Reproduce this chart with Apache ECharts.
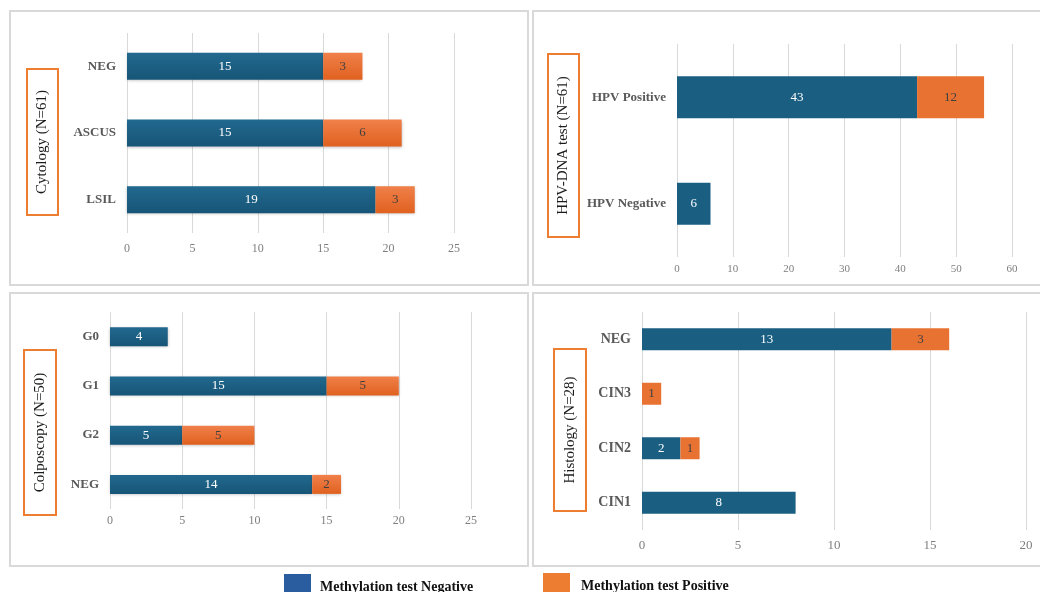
<!DOCTYPE html>
<html>
<head>
<meta charset="utf-8">
<script src="https://cdn.jsdelivr.net/npm/echarts@6/dist/echarts.min.js"></script>
<style>
html,body{margin:0;padding:0;background:#fff;}
#chart{width:1040px;height:592px;}
</style>
</head>
<body>
<div id="chart"></div>
<script>
// ---- data ----
const cytoCats = ['NEG', 'ASCUS', 'LSIL'];
const cytoNeg = [15, 15, 19];
const cytoPos = [3, 6, 3];

const hpvCats = ['HPV Positive', 'HPV Negative'];
const hpvNeg = [43, 6];
const hpvPos = [12, 0];

const colpoCats = ['G0', 'G1', 'G2', 'NEG'];
const colpoNeg = [4, 15, 5, 14];
const colpoPos = [0, 5, 5, 2];

const histoCats = ['NEG', 'CIN3', 'CIN2', 'CIN1'];
const histoNeg = [13, 0, 2, 8];
const histoPos = [3, 1, 1, 0];

const panelTitles = ['Cytology (N=61)', 'HPV-DNA test (N=61)', 'Colposcopy (N=50)', 'Histology (N=28)'];
const axisMax = [25, 60, 25, 20];
const axisStep = [5, 10, 5, 5];
const seriesNames = ['Methylation test Negative', 'Methylation test Positive'];

// ---- layout / style ----
const SERIF = "'Liberation Serif', 'DejaVu Serif', serif";
const grids = [
  {left: 127, top: 33, width: 327, height: 200},
  {left: 677, top: 44, width: 335, height: 213},
  {left: 110, top: 312, width: 361, height: 197},
  {left: 642, top: 312, width: 384, height: 218}
];
const barW = [27, 42, 19, 22];
const tickFont = [12, 11, 12, 13];
const tickMargin = [10, 7, 6, 9];
const catFont = [13, 13, 13, 14];
const panels = [
  {x: 10, y: 11, w: 518, h: 274},
  {x: 533, y: 11, w: 520, h: 274},
  {x: 10, y: 293, w: 518, h: 273},
  {x: 533, y: 293, w: 520, h: 273}
];
const boxes = [
  {x: 27, y: 69, w: 31, h: 146},
  {x: 548, y: 54, w: 31, h: 183},
  {x: 24, y: 350, w: 32, h: 165},
  {x: 554, y: 349, w: 32, h: 162}
];

const cats = [cytoCats, hpvCats, colpoCats, histoCats];
const negs = [cytoNeg, hpvNeg, colpoNeg, histoNeg];
const poss = [cytoPos, hpvPos, colpoPos, histoPos];

const blueGrad = new echarts.graphic.LinearGradient(0, 0, 0, 1, [
  {offset: 0, color: '#22698f'}, {offset: 1, color: '#165577'}]);
const orangeGrad = new echarts.graphic.LinearGradient(0, 0, 0, 1, [
  {offset: 0, color: '#f0804a'}, {offset: 1, color: '#e0611f'}]);
const blueFlat = '#1a5f82';
const orangeFlat = '#e87232';

const xAxes = [], yAxes = [], series = [], graphics = [];
for (let i = 0; i < 4; i++) {
  xAxes.push({
    type: 'value', gridIndex: i, min: 0, max: axisMax[i], interval: axisStep[i],
    axisLine: {show: false}, axisTick: {show: false},
    splitLine: {show: true, lineStyle: {color: '#d9d9d9', width: 1}},
    axisLabel: {color: '#7f7f7f', fontFamily: SERIF, fontSize: tickFont[i], margin: tickMargin[i]}
  });
  yAxes.push({
    type: 'category', gridIndex: i, data: cats[i], inverse: true,
    axisLine: {show: false}, axisTick: {show: false},
    axisLabel: {color: '#595959', fontFamily: SERIF, fontSize: catFont[i], fontWeight: 'bold', margin: 11}
  });
  const grad = (i === 0 || i === 2);
  const fmt = p => (p.value ? String(p.value) : '');
  series.push({
    name: seriesNames[0], type: 'bar', stack: 's' + i, xAxisIndex: i, yAxisIndex: i,
    data: negs[i], barWidth: barW[i],
    itemStyle: {color: grad ? blueGrad : blueFlat, shadowBlur: grad ? 3 : 0, shadowColor: 'rgba(0,0,0,0.25)', shadowOffsetY: grad ? 1 : 0},
    label: {show: true, position: 'inside', color: '#ffffff', fontFamily: SERIF, fontSize: 13, formatter: fmt}
  });
  series.push({
    name: seriesNames[1], type: 'bar', stack: 's' + i, xAxisIndex: i, yAxisIndex: i,
    data: poss[i], barWidth: barW[i],
    itemStyle: {color: grad ? orangeGrad : orangeFlat, shadowBlur: grad ? 3 : 0, shadowColor: 'rgba(0,0,0,0.25)', shadowOffsetY: grad ? 1 : 0},
    label: {show: true, position: 'inside', color: '#404040', fontFamily: SERIF, fontSize: 13, formatter: fmt}
  });
  graphics.push({
    type: 'rect', z: -1, silent: true,
    shape: {x: panels[i].x, y: panels[i].y, width: panels[i].w, height: panels[i].h},
    style: {fill: 'none', stroke: '#d9d9d9', lineWidth: 2}
  });
  graphics.push({
    type: 'rect', silent: true,
    shape: {x: boxes[i].x, y: boxes[i].y, width: boxes[i].w, height: boxes[i].h},
    style: {fill: '#fff', stroke: '#ed7d31', lineWidth: 2}
  });
  graphics.push({
    type: 'text', silent: true,
    x: boxes[i].x + boxes[i].w / 2, y: boxes[i].y + boxes[i].h / 2,
    rotation: Math.PI / 2,
    style: {text: panelTitles[i], fill: '#1a1a1a', font: '15px ' + SERIF, align: 'center', verticalAlign: 'middle'}
  });
}

const chart = echarts.init(document.getElementById('chart'), null, {renderer: 'canvas'});
chart.setOption({
  backgroundColor: '#fff',
  animation: false,
  grid: grids,
  xAxis: xAxes,
  yAxis: yAxes,
  series: series,
  legend: [
    {left: 284, top: 574, padding: 0, itemWidth: 27, itemHeight: 27, icon: 'rect',
     data: [{name: seriesNames[0], itemStyle: {color: '#2a5d9f'}}],
     textStyle: {fontFamily: SERIF, fontWeight: 'bold', fontSize: 14, color: '#111', padding: [0, 0, 11, 4]}},
    {left: 543, top: 573, padding: 0, itemWidth: 27, itemHeight: 27, icon: 'rect',
     data: [{name: seriesNames[1], itemStyle: {color: '#ed7d31'}}],
     textStyle: {fontFamily: SERIF, fontWeight: 'bold', fontSize: 14, color: '#111', padding: [0, 0, 11, 6]}}
  ],
  graphic: graphics
});
</script>
</body>
</html>
